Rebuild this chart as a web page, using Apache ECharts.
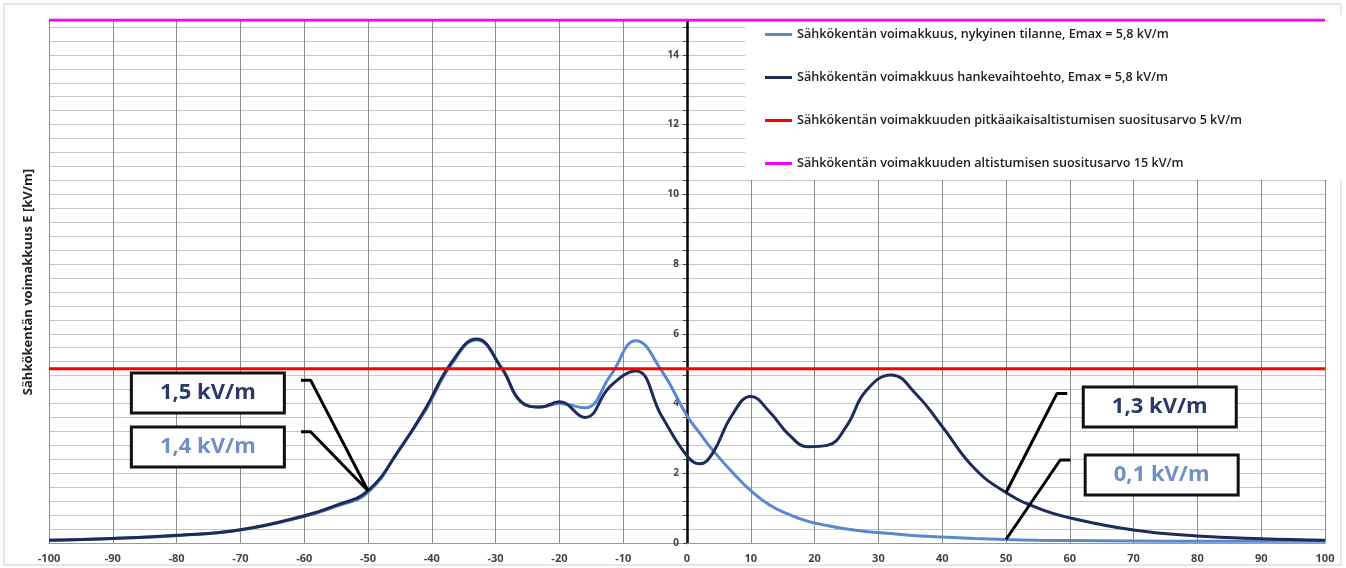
<!DOCTYPE html>
<html>
<head>
<meta charset="utf-8">
<script src="https://cdn.jsdelivr.net/npm/echarts@6/dist/echarts.min.js"></script>
<style>
  html, body { margin: 0; padding: 0; background: #fff; }
  #main { width: 1346px; height: 568px; }
</style>
</head>
<body>
<div id="main"></div>
<script>
// etäisyys johdon keskilinjasta (m)
const distance = [-100, -90, -80, -70, -60, -55, -50, -45, -41, -37, -33, -29, -26, -23, -20, -16, -12, -8, -4, 0,
  2, 4, 7, 10, 13, 16, 19, 22, 25, 28, 32, 36, 40, 45, 50, 55, 60, 70, 80, 90, 100]
// nykyinen tilanne (kV/m)
const nykyinen = [0.08, 0.13, 0.21, 0.37, 0.76, 1.05, 1.45, 2.7, 3.8, 5.1, 5.82, 5.0, 4.05, 3.9, 4.0, 3.88, 4.8, 5.8, 4.95, 3.65,
  3.15, 2.67, 2.05, 1.5, 1.08, 0.82, 0.62, 0.5, 0.4, 0.33, 0.27, 0.21, 0.17, 0.13, 0.1, 0.08, 0.07, 0.06, 0.05, 0.05, 0.05]
// hankevaihtoehto (kV/m)
const hanke = [0.08, 0.13, 0.22, 0.38, 0.78, 1.08, 1.5, 2.7, 3.85, 5.15, 5.85, 5.0, 4.05, 3.9, 4.05, 3.6, 4.5, 4.93, 3.65, 2.5,
  2.27, 2.57, 3.65, 4.2, 3.75, 3.1, 2.76, 2.8, 3.35, 4.35, 4.82, 4.25, 3.34, 2.15, 1.45, 1.0, 0.72, 0.37, 0.2, 0.12, 0.08]
// suositusarvot
const limitLong = 5
const limitShort = 15
const xRange = [-100, 100]

const names = [
  'Sähkökentän voimakkuus, nykyinen tilanne, Emax = 5,8 kV/m',
  'Sähkökentän voimakkuus hankevaihtoehto, Emax = 5,8 kV/m',
  'Sähkökentän voimakkuuden pitkäaikaisaltistumisen suositusarvo 5 kV/m',
  'Sähkökentän voimakkuuden altistumisen suositusarvo 15 kV/m'
]

const cLight = '#5a88cf'
const cDark = '#1d2b58'

// huomautuslaatikot: teksti, väri, laatikon paikka ja johtoviiva (akselin yksiköissä)
const notes = [
  { text: '1,5 kV/m', color: '#2c3868', box: [-75.1, 4.3], leader: [[-60.5, 4.67], [-59, 4.67], [-50, 1.5]] },
  { text: '1,4 kV/m', color: '#6f8fc6', box: [-75.1, 2.75], leader: [[-60.5, 3.19], [-59, 3.19], [-50, 1.5]] },
  { text: '1,3 kV/m', color: '#2c3868', box: [74.1, 3.9], leader: [[59.6, 4.29], [58, 4.29], [50, 1.45]] },
  { text: '0,1 kV/m', color: '#6f8fc6', box: [74.4, 1.95], leader: [[60.1, 2.38], [58.5, 2.38], [50, 0.1]] }
]

const pairs = ys => distance.map((x, i) => [x, ys[i]])
const isMajor = v => Math.abs(v / 2 - Math.round(v / 2)) < 1e-6
const font = '"Open Sans", "Noto Sans", sans-serif'
const gridLeft = 49

const leaderSeries = notes.map(n => ({
  type: 'line',
  data: n.leader,
  symbol: 'none',
  silent: true,
  z: 6,
  lineStyle: { color: '#000', width: 3 },
  markPoint: {
    symbol: 'circle',
    symbolSize: 0,
    silent: true,
    label: {
      show: true,
      position: 'inside',
      formatter: n.text,
      color: n.color,
      fontSize: 22,
      fontWeight: 'bold',
      fontFamily: font,
      backgroundColor: '#fff',
      borderColor: '#111',
      borderWidth: 3,
      width: 150,
      height: 37,
      lineHeight: 37,
      align: 'center',
      verticalAlign: 'middle'
    },
    data: [{ coord: n.box }]
  }
}))

const chart = echarts.init(document.getElementById('main'))
chart.setOption({
  backgroundColor: '#fff',
  animation: false,
  grid: { left: gridLeft, right: 21, top: 20, bottom: 25 },
  legend: {
    data: names,
    orient: 'vertical',
    left: 745,
    top: 15,
    padding: [13, 100, 10, 20],
    itemGap: 30,
    itemWidth: 27,
    itemHeight: 3,
    icon: 'rect',
    backgroundColor: '#fff',
    textStyle: { fontSize: 12.6, color: '#222', fontWeight: 600, fontFamily: font }
  },
  xAxis: {
    type: 'value',
    min: xRange[0],
    max: xRange[1],
    interval: 10,
    axisLine: { onZero: true, lineStyle: { color: '#999', width: 1 } },
    axisTick: { show: false },
    axisLabel: { color: '#444', fontSize: 11, fontWeight: 'bold', fontFamily: font, margin: 10 },
    splitLine: { show: true, lineStyle: { color: '#8c8c8c', width: 1 } }
  },
  yAxis: {
    type: 'value',
    min: 0,
    max: limitShort,
    interval: 0.4,
    axisLine: { show: true, onZero: false, lineStyle: { color: '#000', width: 2.5 } },
    axisTick: { show: true, length: 4, interval: (i, v) => isMajor(+v), lineStyle: { color: '#444' } },
    axisLabel: {
      color: '#444', fontSize: 10, fontWeight: 'bold', fontFamily: font, margin: 8,
      showMaxLabel: false,
      formatter: v => (isMajor(v) ? String(Math.round(v)) : '')
    },
    splitLine: { show: true, lineStyle: { color: '#c6c6c6', width: 1 } }
  },
  graphic: [
    {
      type: 'rect',
      shape: { x: 4, y: 4, width: 1337, height: 561 },
      style: { fill: 'none', stroke: '#cfcfcf', lineWidth: 1 },
      silent: true
    },
    {
      type: 'text',
      x: 28,
      y: 282,
      z: 10,
      rotation: Math.PI / 2,
      style: {
        text: 'Sähkökentän voimakkuus E [kV/m]',
        fill: '#222',
        font: 'bold 13px "Open Sans", "Noto Sans", sans-serif',
        align: 'center',
        verticalAlign: 'middle'
      }
    }
  ],
  series: [
    {
      name: names[0],
      type: 'line',
      data: pairs(nykyinen),
      smooth: 0.45,
      symbol: 'none',
      z: 3,
      itemStyle: { color: cLight },
      lineStyle: { color: cLight, width: 3 }
    },
    {
      name: names[1],
      type: 'line',
      data: pairs(hanke),
      smooth: 0.45,
      symbol: 'none',
      z: 4,
      itemStyle: { color: cDark },
      lineStyle: { color: cDark, width: 3 }
    },
    {
      name: names[2],
      type: 'line',
      data: xRange.map(x => [x, limitLong]),
      symbol: 'none',
      z: 5,
      itemStyle: { color: '#ff0000' },
      lineStyle: { color: '#ff0000', width: 3 }
    },
    {
      name: names[3],
      type: 'line',
      data: xRange.map(x => [x, limitShort]),
      symbol: 'none',
      z: 5,
      itemStyle: { color: '#ff00ff' },
      lineStyle: { color: '#ff00ff', width: 3 }
    }
  ].concat(leaderSeries)
})

// y-akseli (viivat ja luvut) siirretään kohtaan x = 0
const zeroPx = chart.convertToPixel({ xAxisIndex: 0 }, 0)
chart.setOption({ yAxis: { offset: gridLeft - zeroPx } })
</script>
</body>
</html>
